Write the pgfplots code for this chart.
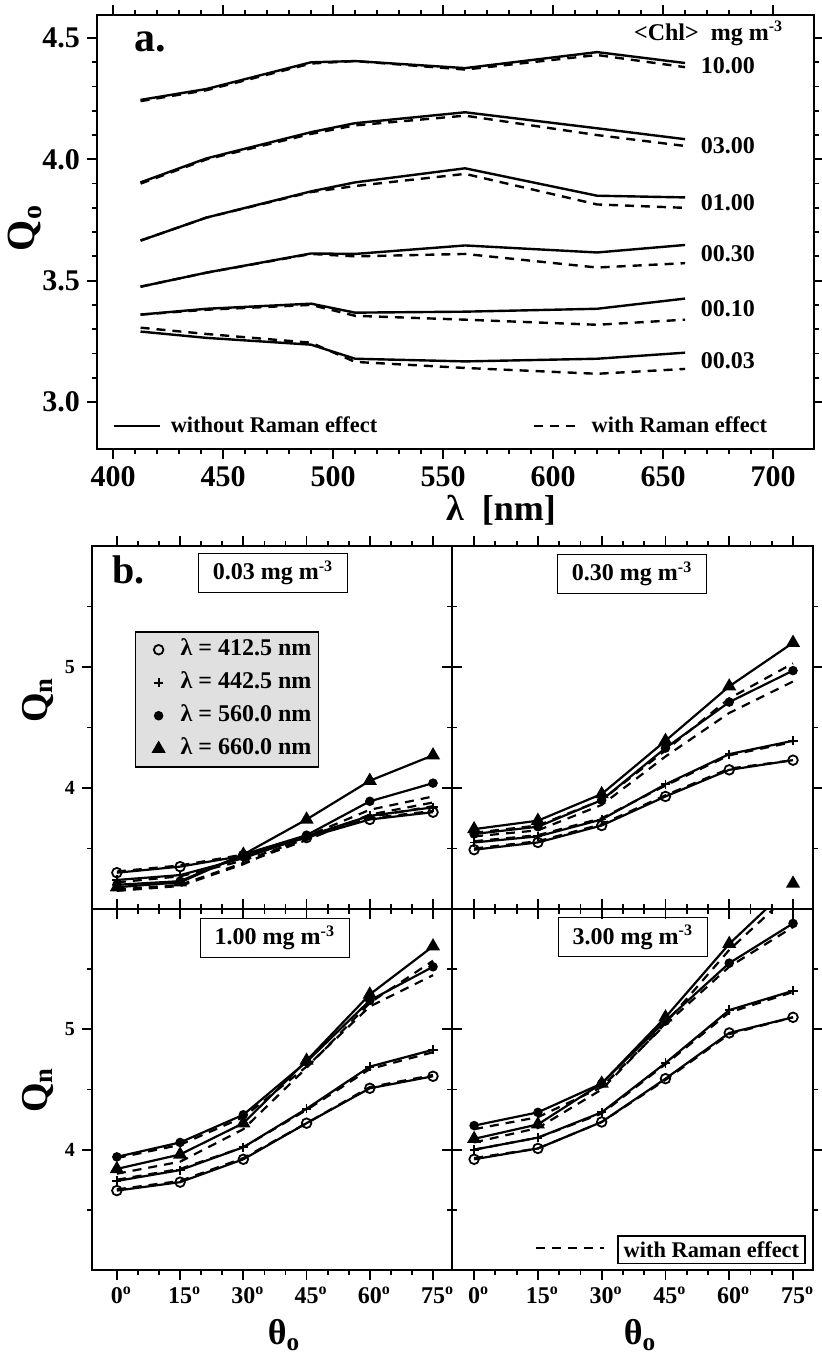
\documentclass[border=0pt]{standalone}
\usepackage{fontspec}
\setmainfont{Liberation Serif}
\usepackage{pgfplots}
\usepackage{pgfplotstable}
\pgfplotsset{compat=1.18}

\newcommand{\fs}[1]{\fontsize{#1}{#1}\selectfont\bfseries}
\newcommand{\dg}{\rlap{\textsuperscript{o}}}
\newcommand{\rbox}[1]{{\setlength{\fboxsep}{2.5pt}\setlength{\fboxrule}{0.8pt}\fbox{#1}}}

% panel a: Q_o vs wavelength; s = without Raman, d = with Raman
\pgfplotstableread{
lam   s10   d10   s3    d3    s1    d1    s03   d03   s01   d01   s003  d003
412.5 4.245 4.240 3.905 3.900 3.665 3.665 3.475 3.475 3.360 3.360 3.290 3.306
442.5 4.290 4.285 4.004 4.000 3.760 3.760 3.533 3.533 3.384 3.380 3.264 3.280
490   4.400 4.395 4.112 4.105 3.868 3.865 3.612 3.610 3.405 3.400 3.236 3.244
510   4.405 4.405 4.149 4.140 3.905 3.890 3.610 3.600 3.368 3.355 3.178 3.165
560   4.376 4.370 4.194 4.180 3.963 3.940 3.645 3.610 3.372 3.339 3.167 3.140
620   4.442 4.430 4.128 4.100 3.850 3.814 3.616 3.554 3.384 3.318 3.178 3.116
660   4.397 4.380 4.083 4.055 3.843 3.800 3.647 3.572 3.426 3.339 3.203 3.136
}\qo

% panel b: Q_n vs sun zenith angle, one table per <Chl>
\pgfplotstableread{
th s412 s442 s560 s660 d412 d442 d560 d660
0  3.30 3.24 3.20 3.18 3.31 3.22 3.16 3.15
15 3.35 3.28 3.23 3.22 3.36 3.27 3.20 3.19
30 3.44 3.42 3.45 3.45 3.45 3.40 3.38 3.37
45 3.59 3.60 3.61 3.74 3.60 3.58 3.57 3.60
60 3.74 3.77 3.89 4.06 3.75 3.76 3.78 3.82
75 3.80 3.84 4.04 4.27 3.81 3.85 3.88 3.93
}\chla
\pgfplotstableread{
th s412 s442 s560 s660 d412 d442 d560 d660
0  3.49 3.55 3.62 3.66 3.50 3.56 3.60 3.63
15 3.55 3.60 3.68 3.73 3.56 3.61 3.65 3.69
30 3.69 3.74 3.90 3.95 3.70 3.75 3.86 3.90
45 3.93 4.03 4.33 4.39 3.94 4.02 4.26 4.31
60 4.15 4.28 4.71 4.84 4.16 4.27 4.62 4.74
75 4.23 4.39 4.97 5.20 4.23 4.38 4.88 5.03
}\chlb
\pgfplotstableread{
th s412 s442 s560 s660 d412 d442 d560 d660
0  3.66 3.74 3.94 3.84 3.67 3.75 3.93 3.80
15 3.73 3.83 4.06 3.96 3.74 3.84 4.04 3.90
30 3.92 4.02 4.29 4.22 3.93 4.02 4.27 4.17
45 4.22 4.34 4.73 4.74 4.22 4.33 4.69 4.68
60 4.51 4.69 5.24 5.29 4.52 4.67 5.19 5.22
75 4.61 4.83 5.52 5.69 4.62 4.81 5.45 5.57
}\chlc
\pgfplotstableread{
th s412 s442 s560 s660 d412 d442 d560 d660
0  3.92 4.00 4.20 4.09 3.93 4.00 4.17 4.06
15 4.01 4.10 4.31 4.21 4.01 4.10 4.27 4.18
30 4.23 4.31 4.55 4.55 4.23 4.30 4.52 4.50
45 4.59 4.72 5.07 5.10 4.58 4.71 5.04 5.05
60 4.97 5.16 5.55 5.71 4.96 5.14 5.52 5.66
75 5.10 5.32 5.88 6.21 5.10 5.31 5.85 6.15
}\chld

\tikzset{
  lbox/.style={draw, line width=0.8pt, minimum width=74.5pt, minimum height=19.5pt, inner sep=2pt, font=\fs{12}},
}
\pgfplotsset{
  base/.style={
    scale only axis, anchor=south west,
    axis line style={line width=1.4pt},
    tick align=outside, tick pos=both,
    every tick/.style={black, line width=0.9pt},
    major tick length=5pt, minor tick length=2.5pt,
    /pgf/number format/assume math mode=true,
  },
  sol/.style={black, line width=1.1pt},
  das/.style={black, line width=1.1pt, dash pattern=on 4.5pt off 3.5pt},
  m412/.style={sol, mark=o, mark size=2.4pt, mark options={solid, line width=0.9pt, fill=white}},
  m442/.style={sol, mark=+, mark size=2.3pt, mark options={solid, line width=0.9pt}},
  m560/.style={sol, mark=*, mark size=1.8pt},
  m660/.style={sol, mark=triangle*, mark size=3pt},
  qn/.style={base, ymin=3, ymax=6, ytick={4,5}, minor ytick={3.5,4.5,5.5},
    xtick={0,15,...,75}, minor x tick num=2,
    yticklabel style={font=\fs{10}},
    xticklabels={0\dg,15\dg,30\dg,45\dg,60\dg,75\dg},
    xticklabel style={font=\fs{12}},
  },
}

\newcommand{\qnplots}[1]{%
  \addplot[das, forget plot] table[x=th, y=d412] {#1};
  \addplot[das, forget plot] table[x=th, y=d442] {#1};
  \addplot[das, forget plot] table[x=th, y=d560] {#1};
  \addplot[das, forget plot] table[x=th, y=d660] {#1};
  \addplot[m412, forget plot] table[x=th, y=s412] {#1};
  \addplot[m442, forget plot] table[x=th, y=s442] {#1};
  \addplot[m560, forget plot] table[x=th, y=s560] {#1};
  \addplot[m660, forget plot] table[x=th, y=s660] {#1};
}

\begin{document}
\bfseries
\begin{tikzpicture}
\path[use as bounding box] (0pt,0pt) rectangle (410.5pt,677pt);

% ---- panel a
\begin{axis}[base, at={(48.5pt,452.5pt)}, width=358.5pt, height=217pt,
  xmin=392.7, xmax=718.6, ymin=2.806, ymax=4.595,
  xtick={400,450,...,700}, minor x tick num=4,
  ytick={3,3.5,4,4.5}, minor y tick num=4,
  ticklabel style={font=\fs{15}},
  yticklabel style={/pgf/number format/.cd, fixed, fixed zerofill, precision=1},
  legend columns=2,
  legend style={at={(axis cs:399.5,2.9)}, anchor=west, draw=none, fill=none,
    inner sep=0pt, font=\fs{11.2}, nodes={inner sep=0pt},
    /tikz/every odd column/.style={column sep=5pt},
    /tikz/every even column/.style={column sep=78pt}},
  legend image code/.code={\draw[#1] (0pt,0pt) -- (23pt,0pt);},
  sol/.append style={line width=1.2pt}, das/.append style={line width=1.2pt},
]
\addplot[sol] table[x=lam, y=s10] {\qo};
\addlegendentry{without Raman effect}
\addplot[das] table[x=lam, y=d10] {\qo};
\addlegendentry{with Raman effect}
\addplot[sol, forget plot] table[x=lam, y=s3] {\qo};
\addplot[das, forget plot] table[x=lam, y=d3] {\qo};
\addplot[sol, forget plot] table[x=lam, y=s1] {\qo};
\addplot[das, forget plot] table[x=lam, y=d1] {\qo};
\addplot[sol, forget plot] table[x=lam, y=s03] {\qo};
\addplot[das, forget plot] table[x=lam, y=d03] {\qo};
\addplot[sol, forget plot] table[x=lam, y=s01] {\qo};
\addplot[das, forget plot] table[x=lam, y=d01] {\qo};
\addplot[sol, forget plot] table[x=lam, y=s003] {\qo};
\addplot[das, forget plot] table[x=lam, y=d003] {\qo};
\node[anchor=west, font=\fs{21}] at (axis cs:406.4,4.484) {a.};
\node[anchor=west, font=\fs{12}] at (axis cs:633.6,4.52) {\textless Chl\textgreater\enspace mg m\textsuperscript{-3}};
\node[anchor=west, font=\fs{12}] at (axis cs:664,4.388) {10.00};
\node[anchor=west, font=\fs{12}] at (axis cs:664,4.058) {03.00};
\node[anchor=west, font=\fs{12}] at (axis cs:664,3.822) {01.00};
\node[anchor=west, font=\fs{12}] at (axis cs:664,3.612) {00.30};
\node[anchor=west, font=\fs{12}] at (axis cs:664,3.384) {00.10};
\node[anchor=west, font=\fs{12}] at (axis cs:664,3.169) {00.03};
\end{axis}

% ---- panel b, 0.03
\begin{axis}[qn, at={(46pt,222.5pt)}, width=180pt, height=181.5pt,
  xmin=-5.9, xmax=79.5, xticklabels={},
  legend cell align=left,
  legend style={at={(rel axis cs:0.119,0.766)}, anchor=north west,
    draw=black, line width=0.8pt, fill=black!12, inner sep=2pt, font=\fs{12},
    row sep=2.5pt, nodes={inner sep=1.5pt, text height=8.5pt, text depth=2.5pt},
    /tikz/every odd column/.style={column sep=2pt}},
  legend image code/.code={\path[draw=none, fill=none] (0pt,0pt) rectangle (17pt,0pt); \draw[#1] plot coordinates {(9.5pt,0pt)};},
]
\qnplots{\chla}
\addlegendimage{m412}
\addlegendentry{λ = 412.5 nm\hspace{5pt}}
\addlegendimage{m442}
\addlegendentry{λ = 442.5 nm\hspace{5pt}}
\addlegendimage{m560}
\addlegendentry{λ = 560.0 nm\hspace{5pt}}
\addlegendimage{m660}
\addlegendentry{λ = 660.0 nm\hspace{5pt}}
\node[anchor=west, font=\fs{20}] at (rel axis cs:0.036,0.934) {b.};
\node[lbox] at (rel axis cs:0.503,0.926) {0.03 mg m\textsuperscript{-3}};
\end{axis}

% ---- panel b, 0.30
\begin{axis}[qn, at={(226pt,222.5pt)}, width=180.5pt, height=181.5pt,
  xmin=-5.2, xmax=79.7, xticklabels={}, yticklabels={}]
\qnplots{\chlb}
% stray 660 nm mark as printed in the source figure
\addplot[m660, only marks, forget plot] coordinates {(75,3.21)};
\node[lbox] at (rel axis cs:0.499,0.923) {0.30 mg m\textsuperscript{-3}};
\end{axis}

% ---- panel b, 1.00
\begin{axis}[qn, at={(46pt,42pt)}, width=180pt, height=180.5pt,
  xmin=-5.9, xmax=79.5]
\qnplots{\chlc}
\node[lbox] at (rel axis cs:0.508,0.920) {1.00 mg m\textsuperscript{-3}};
\end{axis}

% ---- panel b, 3.00
\begin{axis}[qn, at={(226pt,42pt)}, width=180.5pt, height=180.5pt,
  xmin=-5.2, xmax=79.7, yticklabels={},
  legend style={at={(rel axis cs:0.981,0.025)}, anchor=south east, draw=none, fill=none,
    inner sep=0pt, font=\fs{11.2}, nodes={inner sep=0pt},
    /tikz/every odd column/.style={column sep=6pt}},
  legend image code/.code={\draw[#1] (0pt,0pt) -- (34pt,0pt);},
]
\qnplots{\chld}
\addlegendimage{das}
\addlegendentry{\rbox{with Raman effect}}
\node[lbox] at (rel axis cs:0.501,0.922) {3.00 mg m\textsuperscript{-3}};
\end{axis}

% axis titles
\node[rotate=90, font=\fs{20}] at (12.5pt,563pt) {Q\textsubscript{o}};
\node[font=\fs{18}] at (250.5pt,422pt) {λ\enspace[nm]};
\node[rotate=90, font=\fs{19}] at (19pt,327pt) {Q\textsubscript{n}};
\node[rotate=90, font=\fs{19}] at (19pt,132pt) {Q\textsubscript{n}};
\node[font=\fs{18}] at (142pt,9.5pt) {θ\textsubscript{o}};
\node[font=\fs{18}] at (320pt,9.5pt) {θ\textsubscript{o}};
\end{tikzpicture}
\end{document}
